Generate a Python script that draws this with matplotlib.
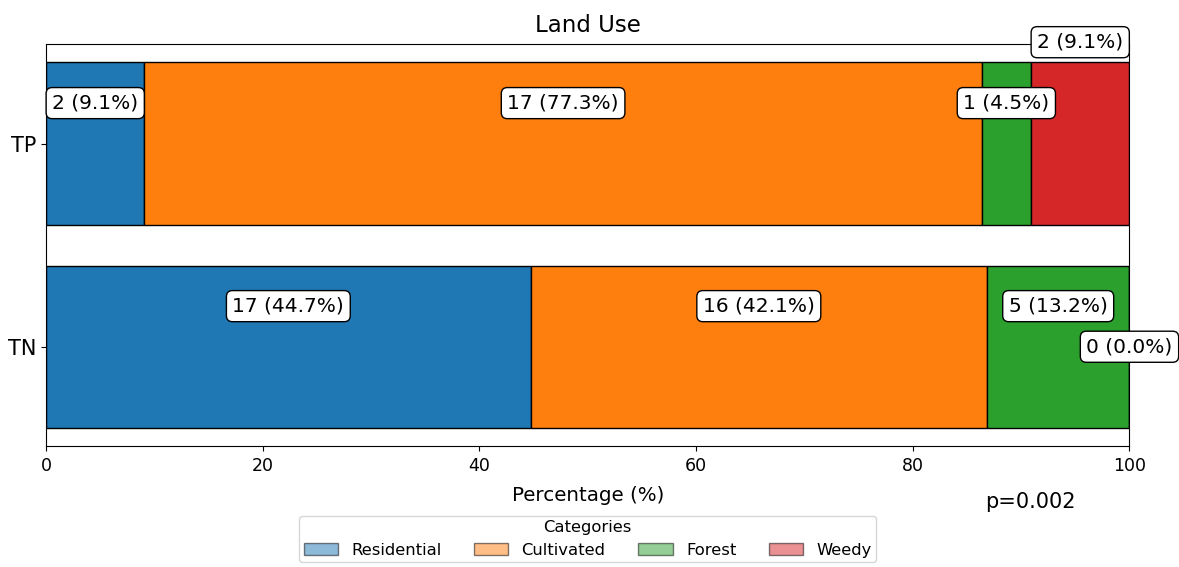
import matplotlib.pyplot as plt
import numpy as np

groups = ['TN', 'TP']
categories = ['Residential', 'Cultivated', 'Forest', 'Weedy']
counts = {
    'TN': [17, 16, 5, 0],
    'TP': [2, 17, 1, 2],
}
percents = {
    'TN': [44.7, 42.1, 13.2, 0.0],
    'TP': [9.1, 77.3, 4.5, 9.1],
}
colors = ['#1f77b4', '#ff7f0e', '#2ca02c', '#d62728']
# vertical offset of each label box (per group, per category)
label_dy = {
    'TN': [0.2, 0.2, 0.2, 0.0],
    'TP': [0.2, 0.2, 0.2, 0.5],
}

fig, ax = plt.subplots(figsize=(11.79, 5.67), dpi=100)
fig.subplots_adjust(left=0.039, right=0.958, top=0.922, bottom=0.213)

y = np.arange(len(groups))
for i, g in enumerate(groups):
    total = sum(counts[g])
    left = 0.0
    for j, cat in enumerate(categories):
        w = counts[g][j] / total * 100
        ax.barh(y[i], w, left=left, color=colors[j], edgecolor='black', height=0.8)
        ax.text(left + w / 2, y[i] + label_dy[g][j],
                f'{counts[g][j]} ({percents[g][j]:.1f}%)',
                ha='center', va='center', fontsize=14.5,
                bbox=dict(boxstyle='round,pad=0.3', facecolor='white', edgecolor='black'))
        left += w

ax.set_yticks(y)
ax.set_yticklabels(groups, fontsize=15)
ax.tick_params(axis='x', labelsize=12.5, pad=4.5)
ax.set_xlim(0, 100)
ax.set_xlabel('Percentage (%)', fontsize=14.3, labelpad=7.5)
ax.set_title('Land Use', fontsize=16.5, pad=8.5)

handles = [plt.Rectangle((0, 0), 1, 1, facecolor=c, alpha=0.5, edgecolor='black') for c in colors]
ax.legend(handles, categories, title='Categories', ncol=4, loc='upper center',
          bbox_to_anchor=(0.5, -0.152), fontsize=11.8, title_fontsize=11.8,
          handlelength=2.1, columnspacing=2.0, borderpad=0.25)

fig.text(0.874, 0.115, 'p=0.002', fontsize=15, ha='center', va='center')

fig.savefig('out.png', dpi=100)
